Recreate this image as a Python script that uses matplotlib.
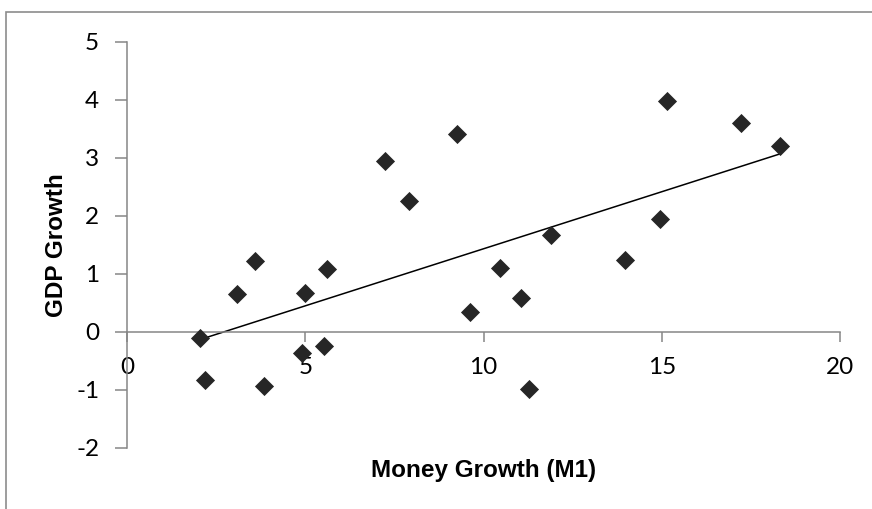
import numpy as np
import matplotlib.pyplot as plt
from matplotlib.patches import Rectangle

plt.rcParams['font.family'] = ['Lato', 'DejaVu Sans']
plt.rcParams['axes.unicode_minus'] = False

# money growth (M1) vs GDP growth
money = [2.05, 2.2, 3.09, 3.6, 3.84, 4.91, 5.0, 5.53, 5.6, 7.24, 7.91, 9.25,
         9.62, 10.45, 11.04, 11.27, 11.88, 13.98, 14.95, 15.15, 17.22, 18.33]
gdp = [-0.1, -0.83, 0.65, 1.22, -0.93, -0.37, 0.67, -0.24, 1.08, 2.95, 2.26, 3.41,
       0.34, 1.11, 0.59, -0.99, 1.68, 1.24, 1.94, 3.99, 3.6, 3.2]

xticks = [0, 5, 10, 15, 20]
yticks = [-2, -1, 0, 1, 2, 3, 4, 5]

axcol = '#868686'

fig = plt.figure(figsize=(8.72, 5.09), dpi=100)
ax = fig.add_axes([127/872, 1-448/509, (840-127)/872, (448-42)/509])

ax.scatter(money, gdp, marker='D', s=95, color='#262626', zorder=3, linewidths=0)

# linear trendline over the data range
m, b = np.polyfit(money, gdp, 1)
xx = np.array([min(money), max(money)])
ax.plot(xx, m*xx+b, color='black', lw=1.1, zorder=2)

ax.set_xlim(0, 20)
ax.set_ylim(-2, 5)
ax.set_xticks(xticks)
ax.set_yticks(yticks)

ax.spines['top'].set_visible(False)
ax.spines['right'].set_visible(False)
ax.spines['bottom'].set_position(('data', 0))
for s in ['left', 'bottom']:
    ax.spines[s].set_color(axcol)
    ax.spines[s].set_linewidth(1.1)
ax.tick_params(axis='both', direction='out', color=axcol, width=1.1, labelsize=17.5)
ax.tick_params(axis='x', length=7, pad=11)
ax.tick_params(axis='y', length=9, pad=11)

lblfont = dict(family='Liberation Sans', fontsize=17.5, fontweight='bold')
ax.set_xlabel('Money Growth (M1)', **lblfont)
ax.xaxis.set_label_coords(0.5, 1-(470-42)/406, transform=ax.transAxes)
ax.xaxis.label.set_va('center')
ax.set_ylabel('GDP Growth', **lblfont)
ax.yaxis.set_label_coords((57-127)/713, 0.5)
ax.yaxis.label.set_va('center')

# chart frame
fig.patches.append(Rectangle((6/872, -0.2), 1.2, 1-12/509+0.2, transform=fig.transFigure,
                             fill=False, edgecolor='#8c8c8c', lw=1.2))

fig.savefig('out.png', dpi=100)
